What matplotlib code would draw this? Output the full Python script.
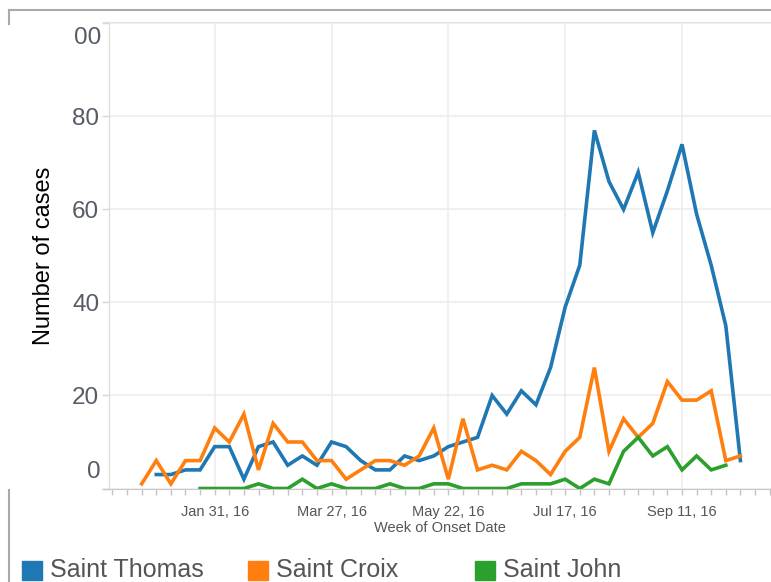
import numpy as np
import matplotlib.pyplot as plt
import matplotlib.dates as mdates
from matplotlib.patches import Rectangle
from matplotlib.lines import Line2D

# weekly case counts (week of onset)
thomas_start = np.datetime64('2016-01-03')
thomas = [3, 3, 4, 4, 9, 9, 2, 9, 10, 5, 7, 5, 10, 9, 6, 4, 4, 7, 6, 7, 9, 10, 11,
          20, 16, 21, 18, 26, 39, 48, 77, 66, 60, 68, 55, 64, 74, 59, 48, 35, 6]

croix_start = np.datetime64('2015-12-27')
croix = [1, 6, 1, 6, 6, 13, 10, 16, 4, 14, 10, 10, 6, 6, 2, 4, 6, 6, 5, 7, 13, 2, 15,
         4, 5, 4, 8, 6, 3, 8, 11, 26, 8, 15, 11, 14, 23, 19, 19, 21, 6, 7]

john_start = np.datetime64('2016-01-24')
john = [0, 0, 0, 0, 1, 0, 0, 2, 0, 1, 0, 0, 0, 1, 0, 0, 1, 1, 0, 0, 0, 0, 1, 1, 1,
        2, 0, 2, 1, 8, 11, 7, 9, 4, 7, 4, 5]

tick_dates = ['2016-01-31', '2016-03-27', '2016-05-22', '2016-07-17', '2016-09-11']
y_ticks = [0, 20, 40, 60, 80, 100]

series = [('Saint Thomas', thomas_start, thomas, '#1f77b4'),
          ('Saint Croix', croix_start, croix, '#ff7f0e'),
          ('Saint John', john_start, john, '#2ca02c')]


def weeks(start, n):
    return start + np.arange(n) * np.timedelta64(7, 'D')


W, H = 771, 582
fig = plt.figure(figsize=(W / 100, H / 100), dpi=100)
ax = fig.add_axes([109 / W, (H - 488.5) / H, (W - 109) / W, (488.5 - 22) / H])

for name, start, vals, col in series:
    ax.plot(weeks(start, len(vals)), vals, color=col, lw=2.6, solid_joinstyle='miter',
            label=name, zorder=3)

ax.set_xlim(np.datetime64('2015-12-11T08'), np.datetime64('2016-10-23T16'))
ax.set_ylim(0, 100.3)

ax.set_xticks(np.array(tick_dates, dtype='datetime64[D]'))
ax.xaxis.set_major_formatter(mdates.DateFormatter('%b %d, %y'))
ax.xaxis.set_minor_locator(mdates.WeekdayLocator(byweekday=mdates.SU))

ax.set_yticks(y_ticks)
ax.set_yticklabels(['' if v in (0, 100) else str(v) for v in y_ticks])

ax.grid(True, which='major', color='#ececec', lw=1.1, zorder=0)
ax.tick_params(axis='x', which='both', length=4, color='#c4c4c4', width=1,
               labelsize=10.5, labelcolor='#555555', pad=8)
ax.tick_params(axis='y', length=5, color='#d6d6d6', width=1, labelsize=17.5,
               labelcolor='#565c66', pad=2)
for lab in ax.get_xticklabels() + ax.get_yticklabels():
    lab.set_family('Liberation Sans')

ax.spines['right'].set_visible(False)
ax.spines['top'].set_color('#e4e4e4')
ax.spines['left'].set_color('#dadada')
ax.spines['bottom'].set_color('#c8c8c8')
ax.spines['bottom'].set_zorder(2)

# clipped tick labels as they appear in the screenshot
ax.text(-0.012, 96.9, '00', transform=ax.get_yaxis_transform(), ha='right', va='center',
        fontsize=17.5, color='#565c66', family='Liberation Sans')
ax.text(-0.012, 3.5, '0', transform=ax.get_yaxis_transform(), ha='right', va='center',
        fontsize=17.5, color='#565c66', family='Liberation Sans')

fig.text(440 / W, 1 - 528 / H, 'Week of Onset Date', ha='center', va='center',
         fontsize=10.5, color='#555555', family='Liberation Sans')
fig.text(44 / W, 1 - 256 / H, 'Number of cases', rotation=90, ha='center', va='center',
         fontsize=17, color='black', family='Liberation Sans')

# frame of the screenshot
fig.add_artist(Line2D([9 / W, 1], [1 - 10 / H] * 2, color='#a9a9a9', lw=1.5))
fig.add_artist(Line2D([9 / W] * 2, [1 - 10 / H, 1 - 24 / H], color='#a9a9a9', lw=1.5))
fig.add_artist(Line2D([9 / W] * 2, [1 - 490 / H, 0], color='#a9a9a9', lw=1.5))
fig.add_artist(Line2D([103 / W, 109 / W], [1 - 22 / H] * 2, color='#e4e4e4', lw=1))
fig.add_artist(Line2D([103 / W, 109 / W], [1 - 488.5 / H] * 2, color='#c8c8c8', lw=1))

# legend along the bottom
leg_x = [22, 248, 475]
for (name, start, vals, col), x0 in zip(series, leg_x):
    fig.add_artist(Rectangle((x0 / W, 1 - 580 / H), 20 / W, 19 / H, color=col,
                             transform=fig.transFigure))
    fig.text((x0 + 28) / W, 1 - 577 / H, name, ha='left', va='baseline',
             fontsize=18, color='#555555', family='Liberation Sans')

fig.savefig('out.png', dpi=100)
